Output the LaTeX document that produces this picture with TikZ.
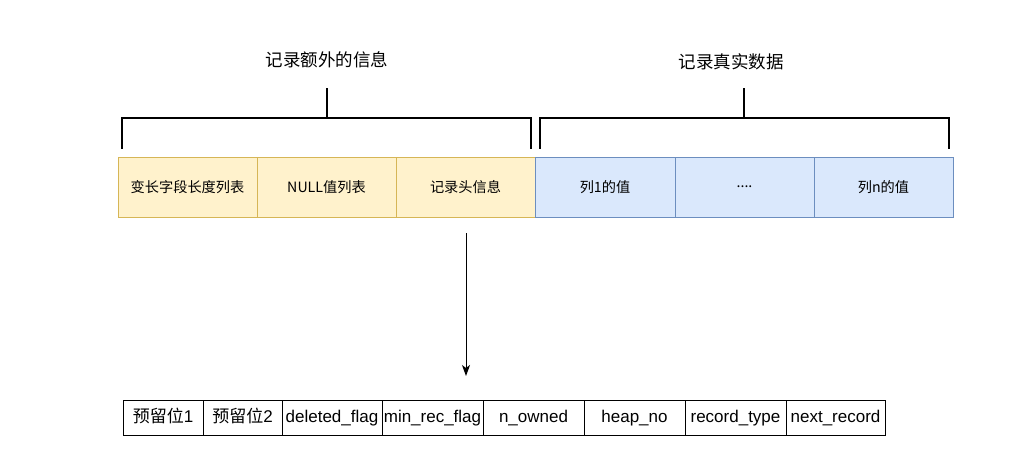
\documentclass[tikz,border=0pt]{standalone}
\usepackage{fontspec}
\setmainfont{Liberation Sans}
\newfontfamily\cjk{Noto Sans CJK SC}
\usetikzlibrary{arrows.meta}
\tikzset{
  ybox/.style={draw=yellowstroke, fill=yellowfill, line width=1pt, minimum height=60pt, inner sep=0pt, font=\cjk\fontsize{14.2}{16}\selectfont},
  bbox/.style={draw=bluestroke, fill=bluefill, line width=1pt, minimum height=60pt, inner sep=0pt, font=\cjk\fontsize{14.2}{16}\selectfont},
  cell/.style={draw=black, line width=1pt, minimum height=35pt, inner sep=0pt, text height=12pt, text depth=2pt, font=\fontsize{17}{19}\selectfont},
  brace/.style={draw=black, line width=2pt},
  title/.style={font=\cjk\fontsize{17.5}{20}\selectfont, inner sep=0pt},
}
\definecolor{yellowfill}{HTML}{FFF2CC}
\definecolor{yellowstroke}{HTML}{D6B656}
\definecolor{bluefill}{HTML}{DAE8FC}
\definecolor{bluestroke}{HTML}{6C8EBF}
\begin{document}
\begin{tikzpicture}[x=1pt,y=-1pt]
\useasboundingbox[fill=white] (0,0) rectangle (1030,461);
% top boxes
\node[ybox, minimum width=139pt] (b1) at (187.5,187) {变长字段长度列表};
\node[ybox, minimum width=139pt] (b2) at (326.5,187) {NULL值列表};
\node[ybox, minimum width=139pt] (b3) at (465.5,187) {记录头信息};
\node[bbox, minimum width=140pt] (b4) at (605,187) {列1的值};
\node[bbox, minimum width=139pt] (b5) at (744.5,187) {....};
\node[bbox, minimum width=139pt] (b6) at (883.5,187) {列n的值};
% brackets
\coordinate (l1) at (122,148); \coordinate (l2) at (531,148);
\coordinate (ls) at (327,118); \coordinate (lt) at (327,88);
\coordinate (r1) at (540,148); \coordinate (r2) at (949,148);
\coordinate (rs) at (744,118); \coordinate (rt) at (744,88);
\draw[brace, line cap=rect] (l1) -- (122,118) -- (531,118) -- (l2);
\draw[brace] (ls) -- (lt);
\draw[brace, line cap=rect] (r1) -- (540,118) -- (949,118) -- (r2);
\draw[brace] (rs) -- (rt);
\node[title] (t1) at (327,60) {记录额外的信息};
\node[title] (t2) at (731,62) {记录真实数据};
% arrow
\coordinate (as) at (466,233);
\coordinate (ae) at (466,376);
\draw[line width=1pt, -{Stealth[length=11pt,width=8pt,inset=3pt]}] (as) -- (ae);
% bottom table
\node[cell, minimum width=80pt] (c1) at (163,417.5) {\cjk 预留位\normalfont 1};
\node[cell, minimum width=79pt] (c2) at (242.5,417.5) {\cjk 预留位\normalfont 2};
\node[cell, minimum width=100pt] (c3) at (332,417.5) {deleted\_flag};
\node[cell, minimum width=101pt] (c4) at (432.5,417.5) {min\_rec\_flag};
\node[cell, minimum width=101pt] (c5) at (533.5,417.5) {n\_owned};
\node[cell, minimum width=101pt] (c6) at (634.5,417.5) {heap\_no};
\node[cell, minimum width=101pt] (c7) at (735.5,417.5) {record\_type};
\node[cell, minimum width=99pt] (c8) at (835.5,417.5) {next\_record};
\end{tikzpicture}
\end{document}
